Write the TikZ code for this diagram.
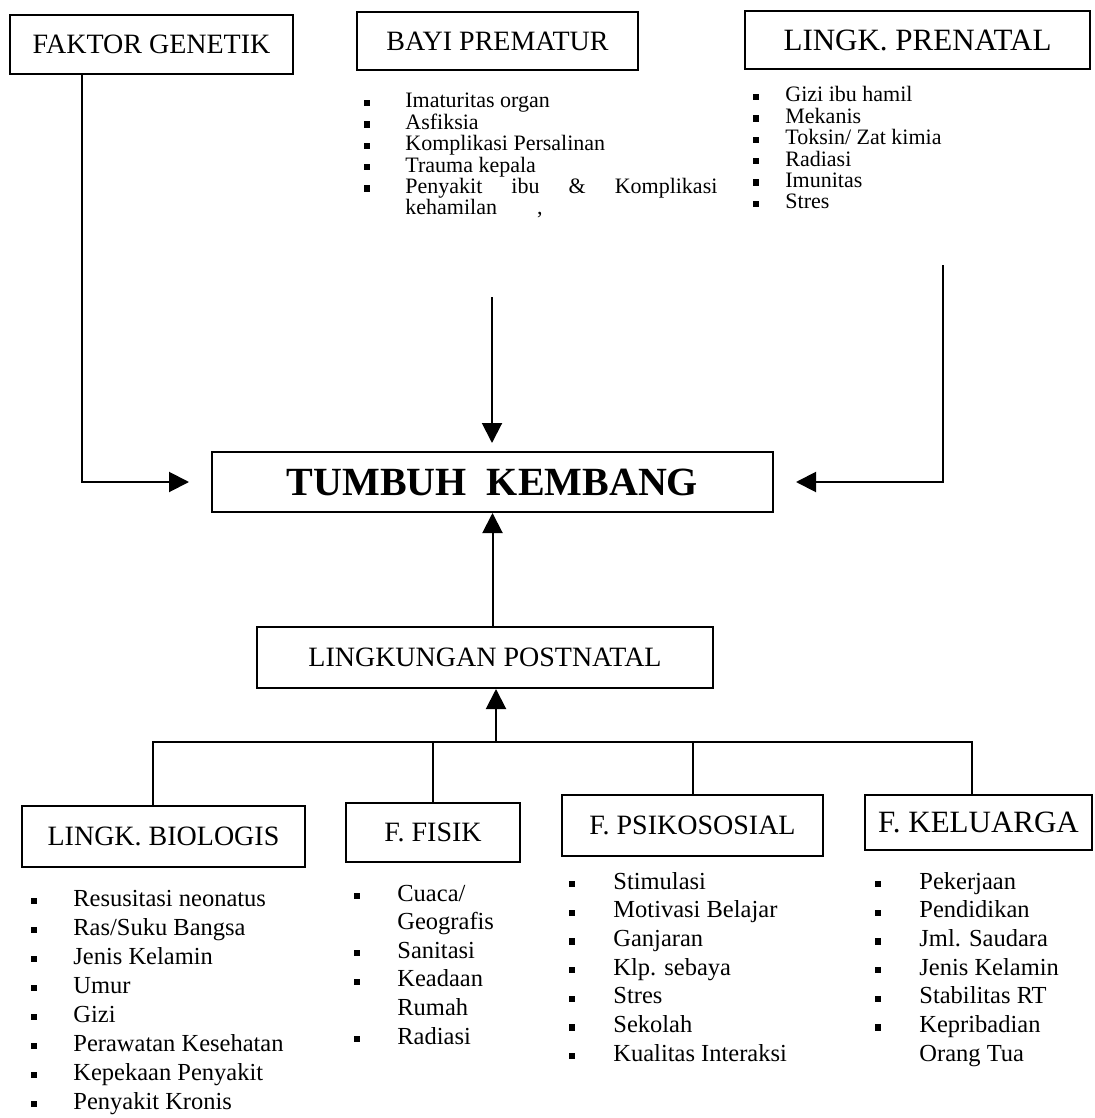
\documentclass[tikz,border=0pt]{standalone}
\usepackage{fontspec}
\setmainfont{Liberation Serif}
\usetikzlibrary{arrows.meta}
\begin{document}
\begin{tikzpicture}[x=0.5pt,y=-0.5pt,
  box/.style={draw, line width=1pt, inner sep=0pt, font=\fontsize{14pt}{16pt}\selectfont},
  conn/.style={line width=1pt},
  arr/.style={line width=1pt, -{Triangle[length=10pt,width=10pt]}},
  itmtop/.style={anchor=west, inner sep=0pt, text height=0.72em, text depth=0.22em, font=\fontsize{11pt}{13pt}\selectfont},
  itmbot/.style={anchor=west, inner sep=0pt, text height=0.72em, text depth=0.22em, font=\fontsize{12.25pt}{14pt}\selectfont},
  bul/.style={fill=black, inner sep=0pt, minimum size=3.2pt}]
\useasboundingbox (0,0) rectangle (1095,1118);

% boxes
\node[box, minimum width=141.5pt, minimum height=29.5pt] (fg) at (151.5,44.5) {FAKTOR GENETIK};
\node[box, minimum width=140.5pt, minimum height=29pt] (bp) at (497.5,41) {BAYI PREMATUR};
\node[box, minimum width=172.5pt, minimum height=29pt, font=\fontsize{15.5pt}{18pt}\selectfont] (lp) at (917.5,40) {LINGK. PRENATAL};
\node[box, minimum width=280.5pt, minimum height=30pt, font=\fontsize{20pt}{24pt}\selectfont\bfseries] (tk) at (492.5,482) {TUMBUH\ \ KEMBANG};
\node[box, minimum width=228pt, minimum height=30.5pt] (lpn) at (485,657.5) {LINGKUNGAN POSTNATAL};
\node[box, minimum width=141.5pt, minimum height=30.5pt] (bio) at (163.5,836.5) {LINGK. BIOLOGIS};
\node[box, minimum width=87pt, minimum height=29.5pt] (fis) at (433,832.5) {F. FISIK};
\node[box, minimum width=130.5pt, minimum height=30.5pt] (psi) at (692.5,825.5) {F. PSIKOSOSIAL};
\node[box, minimum width=113.5pt, minimum height=27.5pt, font=\fontsize{15.5pt}{18pt}\selectfont] (kel) at (978.5,822.5) {F. KELUARGA};

% connectors to TUMBUH KEMBANG
\coordinate (c1) at (82,482);
\draw[arr, shorten >=11pt] (fg.south -| c1) -- (c1) -- (c1 -| tk.west);
\coordinate (c2s) at (943,265);
\coordinate (c2) at (943,482);
\draw[arr, shorten >=11pt] (c2s) -- (c2) -- (c2 -| tk.east);
\coordinate (c3) at (492,297);
\draw[arr, shorten >=4pt] (c3) -- (c3 |- tk.north);
\draw[arr] (tk.south |- lpn.north) -- (tk.south);

% bus
\coordinate (bl) at (153,742);
\coordinate (br) at (972,742);
\coordinate (bus) at (496,742);
\draw[arr] (bus) -- (bus |- lpn.south);
\draw[conn] (bio.north -| bl) -- (bl) -- (br) -- (kel.north -| br);
\draw[conn] (fis.north) -- (fis.north |- bl);
\draw[conn] (psi.north) -- (psi.north |- bl);

% Bayi prematur list
\foreach \t [count=\i from 0] in {Imaturitas organ, Asfiksia, Komplikasi Persalinan, Trauma kepala, {\makebox[156pt][s]{Penyakit ibu \& Komplikasi}}, {kehamilan\hspace{20pt},}}
  \node[itmtop] (bpt\i) at (405,103+21.4*\i) {\t};
\foreach \i in {0,...,4} \node[bul] (bpb\i) at (367,103+21.4*\i) {};

% Prenatal list
\foreach \t [count=\i from 0] in {Gizi ibu hamil, Mekanis, Toksin/ Zat kimia, Radiasi, Imunitas, Stres}
  \node[itmtop] (lpt\i) at (785,97+21.4*\i) {\t};
\foreach \i in {0,...,5} \node[bul] (lpb\i) at (756,97+21.4*\i) {};

% Biologis list
\foreach \t [count=\i from 0] in {Resusitasi neonatus, Ras/Suku Bangsa, Jenis Kelamin, Umur, Gizi, Perawatan Kesehatan, Kepekaan Penyakit, Penyakit Kronis}
  \node[itmbot] (biot\i) at (73,901+29*\i) {\t};
\foreach \i in {0,...,7} \node[bul] (biob\i) at (34,901+29*\i) {};

% Fisik list
\foreach \t [count=\i from 0] in {Cuaca/, Geografis, Sanitasi, Keadaan, Rumah, Radiasi}
  \node[itmbot] (fist\i) at (397,896+28.6*\i) {\t};
\foreach \i in {0,2,3,5} \node[bul] (fisb\i) at (357,896+28.6*\i) {};

% Psikososial list
\foreach \t [count=\i from 0] in {Stimulasi, Motivasi Belajar, Ganjaran, Klp. sebaya, Stres, Sekolah, Kualitas Interaksi}
  \node[itmbot] (psit\i) at (613,884+28.7*\i) {\t};
\foreach \i in {0,...,6} \node[bul] (psib\i) at (572,884+28.7*\i) {};

% Keluarga list
\foreach \t [count=\i from 0] in {Pekerjaan, Pendidikan, Jml. Saudara, Jenis Kelamin, Stabilitas RT, Kepribadian, Orang Tua}
  \node[itmbot] (kelt\i) at (919,884+28.7*\i) {\t};
\foreach \i in {0,...,5} \node[bul] (kelb\i) at (878,884+28.7*\i) {};
\end{tikzpicture}
\end{document}
